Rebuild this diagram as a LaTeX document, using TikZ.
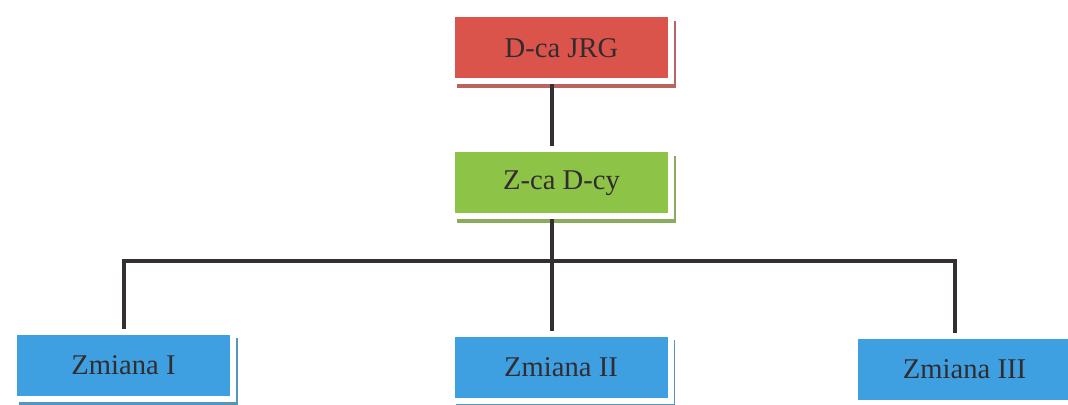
\documentclass[tikz,border=0pt]{standalone}
\usepackage{fontspec}
\setmainfont{Liberation Serif}
\usetikzlibrary{
    shadows
}
\definecolor{boxred}{RGB}{219,84,76}
\definecolor{boxgreen}{RGB}{141,196,72}
\definecolor{boxblue}{RGB}{62,160,224}
\definecolor{boxtext}{RGB}{50,44,48}
\definecolor{linegray}{RGB}{52,48,50}

\begin{document}
\begin{tikzpicture}[x=0.5pt,y=-0.5pt,
    box/.style={rectangle,fill=#1,draw=white,line width=3pt,
        minimum width=109.5pt,minimum height=33.5pt,inner sep=0pt,
        text=boxtext,font=\fontsize{14.3pt}{17pt}\selectfont,
        drop shadow={shadow xshift=2.3pt,shadow yshift=-3.2pt,opacity=1,fill=#1!65!gray}},
    link/.style={draw=linegray,line width=2pt}]
%\draw [help lines](0,0) grid (1068,405);
\path [use as bounding box,fill=white] (0,0) rectangle (1068,405);
% boxes
\node [box=boxred] (jrg) at (561.5,48) {D-ca JRG};
\node [box=boxgreen] (zca) at (561.5,183) {Z-ca D-cy};
\node [box=boxblue] (zm1) at (123.5,365.5) {Zmiana I};
\node [box=boxblue] (zm2) at (561,367.5) {Zmiana II};
\node [box=boxblue] (zm3) at (964.5,369.5) {Zmiana III};
% bus
\coordinate (bus1) at (124,261);
\coordinate (bus2) at (552,261);
\coordinate (bus3) at (955,261);
\draw [link] (jrg.south -| bus2) -- (zca.north -| bus2);
\draw [link] (zca.south -| bus2) -- (bus2);
\draw [link] (zm1.north -| bus1) -- (bus1) -- (bus3) -- (zm3.north -| bus3);
\draw [link] (bus2) -- (zm2.north -| bus2);
\end{tikzpicture}
\end{document}
